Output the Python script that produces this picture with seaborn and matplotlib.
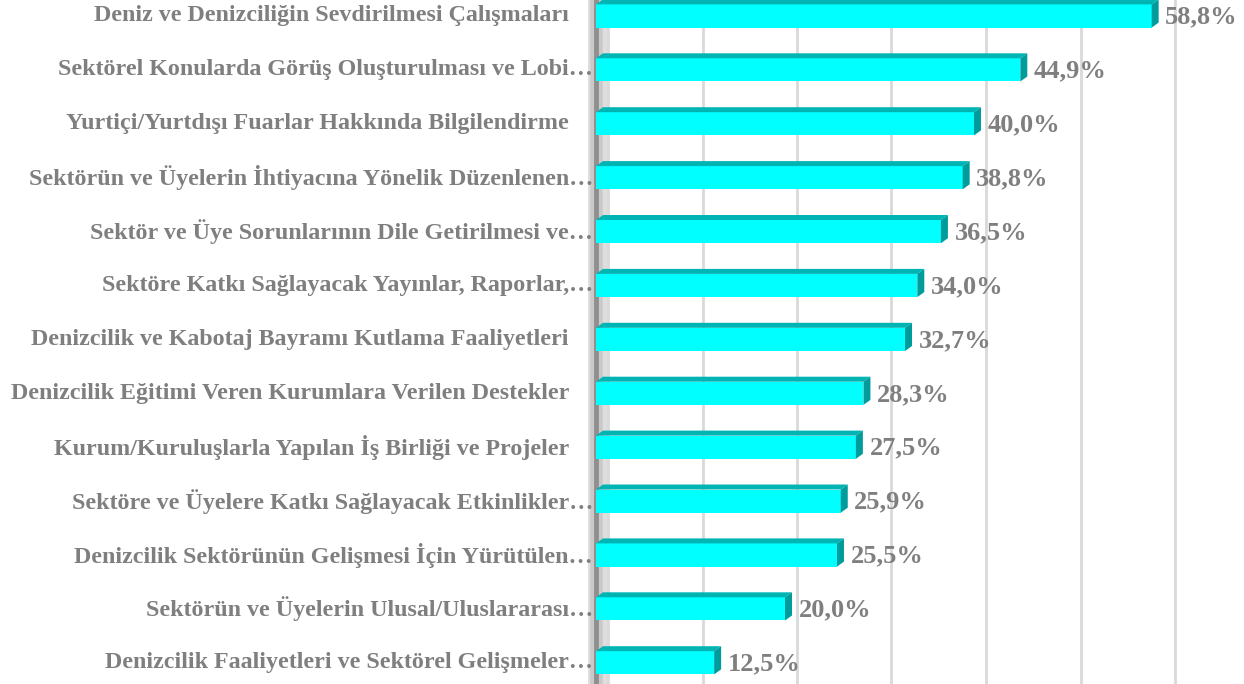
import matplotlib
matplotlib.use("Agg")
import matplotlib.pyplot as plt
from matplotlib.patches import Polygon
import seaborn as sns
import pandas as pd

# Veriler (yukaridan asagiya)
etiketler = [
    "Deniz ve Denizciliğin Sevdirilmesi Çalışmaları    ",
    "Sektörel Konularda Görüş Oluşturulması ve Lobi…",
    "Yurtiçi/Yurtdışı Fuarlar Hakkında Bilgilendirme    ",
    "Sektörün ve Üyelerin İhtiyacına Yönelik Düzenlenen…",
    "Sektör ve Üye Sorunlarının Dile Getirilmesi ve…",
    "Sektöre Katkı Sağlayacak Yayınlar, Raporlar,…",
    "Denizcilik ve Kabotaj Bayramı Kutlama Faaliyetleri    ",
    "Denizcilik Eğitimi Veren Kurumlara Verilen Destekler    ",
    "Kurum/Kuruluşlarla Yapılan İş Birliği ve Projeler    ",
    "Sektöre ve Üyelere Katkı Sağlayacak Etkinlikler…",
    "Denizcilik Sektörünün Gelişmesi İçin Yürütülen…",
    "Sektörün ve Üyelerin Ulusal/Uluslararası…",
    "Denizcilik Faaliyetleri ve Sektörel Gelişmeler…",
]
oranlar = [58.8, 44.9, 40.0, 38.8, 36.5, 34.0, 32.7, 28.3, 27.5, 25.9, 25.5, 20.0, 12.5]
izgara = [0, 10, 20, 30, 40, 50, 60]

df = pd.DataFrame({"etiket": etiketler, "oran": oranlar})

sns.set_theme(style="white")
plt.rcParams["font.family"] = ["Liberation Serif", "DejaVu Serif"]

GRI = "#7F7F7F"
ON = "#00FFFF"
UST = "#00B4B4"
YAN = "#009C9C"

fig = plt.figure(figsize=(12.44, 6.84), dpi=100)
ax = fig.add_axes([585 / 1244, 0, 1 - 585 / 1244, 1])

px_x = 9.45          # piksel / yuzde
px_y = 53.9          # piksel / kategori

h = 0.43
dx = 7 / px_x
dy = 5 / px_y
ofs = 12 / px_x

# arka duvar ve izgara
ax.axvspan(-0.85, ofs, color="#DEDEDE", zorder=0, lw=0)
ax.axvline(-0.05, color="#8C8C8C", lw=9, alpha=0.25, zorder=0.5)
ax.axvline(-0.05, color="#777777", lw=3.5, alpha=0.7, zorder=0.6)
for g in izgara:
    ax.axvline(g + ofs, color="#D9D9D9", lw=2, zorder=1)

sns.barplot(data=df, x="oran", y="etiket", orient="h", color=ON,
            saturation=1, width=h, linewidth=0, edgecolor=ON, ax=ax, zorder=3)

for i, v in enumerate(oranlar):
    ust = i - h / 2
    alt = i + h / 2
    ax.add_patch(Polygon([(0, ust), (v, ust), (v + dx, ust - dy), (dx, ust - dy)],
                         closed=True, color=UST, lw=0, zorder=3))
    ax.add_patch(Polygon([(v, ust), (v + dx, ust - dy), (v + dx, alt - dy), (v, alt)],
                         closed=True, color=YAN, lw=0, zorder=3))
    ax.text(v + dx + 0.7, i + 0.02, f"{v:.1f}%".replace(".", ","), ha="left", va="center",
            fontsize=19, fontweight="bold", color=GRI)
    ax.text(-0.32, i, etiketler[i], ha="right", va="center",
            fontsize=17.3, fontweight="bold", color=GRI)

ax.set_xlim(-(596 - 585) / px_x, (1244 - 596) / px_x)
ax.set_ylim((684 - 16) / px_y, -16 / px_y)
ax.set_xlabel("")
ax.set_ylabel("")
ax.set_xticks([])
ax.set_yticks([])
for s in ax.spines.values():
    s.set_visible(False)

fig.savefig("out.png", dpi=100)
